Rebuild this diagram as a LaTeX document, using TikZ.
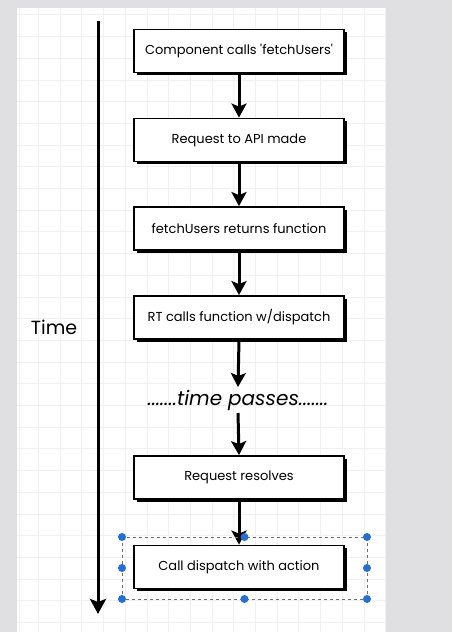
\documentclass[tikz,border=0pt]{standalone}
\usepackage{fontspec}
\setmainfont{Poppins}[Ligatures=TeXOff]
\usetikzlibrary{arrows.meta}
\definecolor{bgray}{RGB}{224,224,226}
\definecolor{gridc}{RGB}{240,240,242}
\definecolor{selblue}{RGB}{38,110,210}
\definecolor{selgray}{RGB}{110,110,115}
\tikzset{
  flowbox/.style={draw=black, line width=1.8pt, fill=white, minimum width=210pt, minimum height=43pt,
    inner sep=0pt, font=\fontsize{13}{15}\selectfont},
  shadowbox/.style={fill=black, minimum width=210pt, minimum height=43pt, inner sep=0pt},
  flowarrow/.style={line width=3pt, -{Stealth[width=15pt,length=14pt,inset=3pt]}},
  handle/.style={circle, fill=selblue, inner sep=0pt, minimum size=8pt}
}
\begin{document}
\begin{tikzpicture}[x=1pt,y=-1pt]
\useasboundingbox (0,0) rectangle (452,632);
\fill[bgray] (0,0) rectangle (452,632);
\fill[white] (17,8) rectangle (385,632);
% grid
\foreach \i in {0,...,16} {\draw[gridc, line width=0.6pt] (38.3+21.7*\i,8) -- (38.3+21.7*\i,632);}
\foreach \j in {0,...,29} {\draw[gridc, line width=0.6pt] (17,14.7+21.7*\j) -- (385,14.7+21.7*\j);}
\draw[gridc, line width=0.6pt] (19.5,8) -- (19.5,632);
% time axis
\coordinate (tstart) at (98,21);
\coordinate (tend) at (98,614);
\draw[line width=3pt, -{Stealth[width=16pt,length=15pt,inset=3pt]}] (tstart) -- (tend);
\node[font=\fontsize{19}{22}\selectfont] (time) at (54,327) {Time};
% boxes with shadows
\foreach \n/\y/\t in {b1/51/{Component calls 'fetchUsers'}, b2/140/{Request to API made}, b3/228.5/{fetchUsers returns function}, b4/317.5/{RT calls function w/dispatch}, b5/477.5/{Request resolves}, b6/567/{Call dispatch with action}} {
  \node[shadowbox] at (241.5,\y+2.5) {};
  \node[flowbox] (\n) at (239,\y) {\t};
}
\node[font=\fontsize{20}{22}\selectfont] (tp) at (238,400) {\textit{.......time passes.......}};
\coordinate (tpin) at (238,387);
\coordinate (tpout) at (238,413);
% arrows
\draw[flowarrow] (b1.south) -- (b2.north);
\draw[flowarrow] (b2.south) -- (b3.north);
\draw[flowarrow] (b3.south) -- (b4.north);
\draw[flowarrow] (b4.south) -- (tpin);
\draw[flowarrow] (tpout) -- (b5.north);
\draw[flowarrow] (b5.south) -- (b6.north);
% selection
\coordinate (s1) at (122,537);
\coordinate (s2) at (367,599);
\draw[selgray, line width=1pt, dash pattern=on 3pt off 3pt] (s1) rectangle (s2);
\foreach \x in {122,244.5,367} {\node[handle] at (\x,537) {}; \node[handle] at (\x,599) {};}
\node[handle] at (122,568) {};
\node[handle] at (367,568) {};
\end{tikzpicture}
\end{document}
